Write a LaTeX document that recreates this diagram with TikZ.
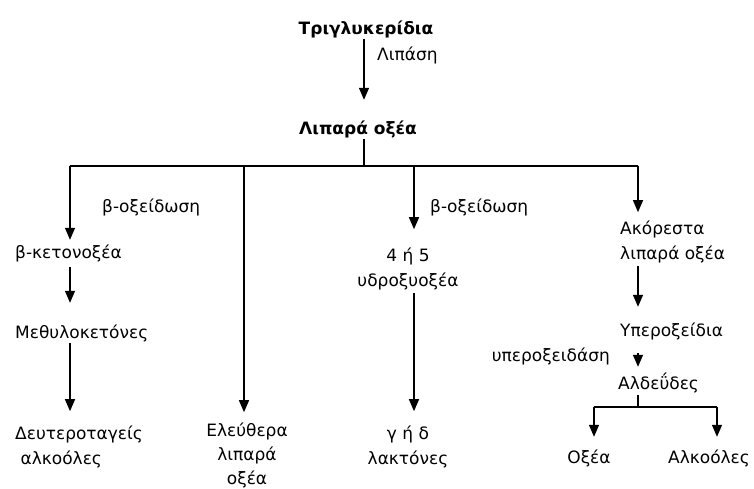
\documentclass[tikz,border=0pt]{standalone}
\usepackage{fontspec}
\setmainfont{DejaVu Sans}
\usetikzlibrary{arrows.meta}
\begin{document}
\begin{tikzpicture}[x=1pt,y=-1pt,
  lbl/.style={font=\fontsize{17}{25}\selectfont, inner sep=0pt, text height=13pt, text depth=4pt},
  mlbl/.style={font=\fontsize{17}{25}\selectfont, inner sep=0pt},
  ttl/.style={font=\fontsize{17}{25}\selectfont\bfseries, inner sep=0pt, text height=13pt, text depth=4pt},
  ln/.style={line width=1.3pt},
  arr/.style={ln, -{Triangle[width=10pt,length=12pt]}}]
\useasboundingbox[fill=white] (0,0) rectangle (754,489);

% texts (multi-line nodes sit on the baseline of their last line)
\node[ttl, anchor=base] (trig) at (366,35) {Τριγλυκερίδια};
\node[lbl, anchor=base west] (lipase) at (377,61) {Λιπάση};
\node[ttl, anchor=base] (fa) at (358,135) {Λιπαρά οξέα};
\node[lbl, anchor=base west] (boxL) at (102,212) {β-οξείδωση};
\node[lbl, anchor=base west] (bket) at (15,258) {β-κετονοξέα};
\node[lbl, anchor=base west] (methyl) at (15,338) {Μεθυλοκετόνες};
\node[mlbl, anchor=base west, align=left] (sec) at (15,464) {Δευτεροταγείς\\\ αλκοόλες};
\node[mlbl, anchor=base, align=center, font=\fontsize{17}{24}\selectfont] (free) at (247,484) {Ελεύθερα\\λιπαρά\\οξέα};
\node[lbl, anchor=base west] (boxR) at (430,212) {β-οξείδωση};
\node[mlbl, anchor=base, align=center] (hyd) at (408,286) {4 ή 5\\υδροξυοξέα};
\node[mlbl, anchor=base, align=center] (lac) at (408,464) {γ ή δ\\λακτόνες};
\node[mlbl, anchor=base west, align=left] (unsat) at (620,259) {Ακόρεστα\\λιπαρά οξέα};
\node[lbl, anchor=base west] (perox) at (620,336) {Υπεροξείδια};
\node[lbl, anchor=base east] (peroxase) at (610,361) {υπεροξειδάση};
\node[lbl, anchor=base west] (ald) at (618,389) {Αλδεΰδες};
\node[lbl, anchor=base] (acid) at (589,463) {Οξέα};
\node[lbl, anchor=base] (alc) at (709,463) {Αλκοόλες};

% junctions
\coordinate (j0) at (364,166);
\coordinate (jL) at (70,166);
\coordinate (jF) at (244,166);
\coordinate (jH) at (414,166);
\coordinate (jR) at (638,166);
\coordinate (jA) at (638,407);
\coordinate (jA1) at (594,407);
\coordinate (jA2) at (717,407);

% main trunk
\draw[arr, shorten >=22pt] (trig.south -| j0) -- (fa.north -| j0);
\draw[ln] (fa.south -| j0) -- (j0);
\draw[ln] (jL) -- (jR);

% branches from the fatty acids
\draw[arr, shorten >=5pt] (jL) -- (bket.north -| jL);
\draw[arr, shorten >=10pt] (jF) -- (free.north -| jF);
\draw[arr, shorten >=18pt] (jH) -- (hyd.north -| jH);
\draw[arr, shorten >=8pt] (jR) -- (unsat.north -| jR);

% left chain
\draw[arr, shorten <=5pt, shorten >=22pt] (bket.south -| jL) -- (methyl.north -| jL);
\draw[arr, shorten <=1pt, shorten >=14pt] (methyl.south -| jL) -- (sec.north -| jL);

% hydroxy acids to lactones
\draw[arr, shorten <=3pt, shorten >=14pt] (hyd.south -| jH) -- (lac.north -| jH);

% unsaturated chain
\draw[arr, shorten <=3pt, shorten >=16pt] (unsat.south -| jR) -- (perox.north -| jR);
\draw[arr, shorten <=13pt, shorten >=9pt] (perox.south -| jR) -- (ald.north -| jR);
\draw[ln, shorten <=2pt] (ald.south -| jA) -- (jA);
\draw[ln] (jA1) -- (jA2);
\draw[arr, shorten >=13pt] (jA1) -- (acid.north -| jA1);
\draw[arr, shorten >=13pt] (jA2) -- (alc.north -| jA2);
\end{tikzpicture}
\end{document}
